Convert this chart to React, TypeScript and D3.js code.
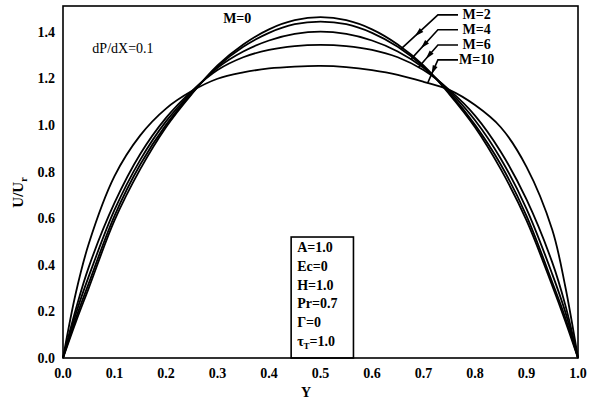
import React, { useEffect, useRef } from 'react'
import * as d3 from 'd3'

// Y positions across the channel
const yPos = [0, 0.025, 0.05, 0.1, 0.15, 0.2, 0.25, 0.3, 0.35, 0.4, 0.45, 0.5, 0.55, 0.6, 0.65, 0.7, 0.75, 0.8, 0.85, 0.9, 0.95, 0.975, 1.0]

// U/Ur for each Hartmann number
const uM0 = [0, 0.155, 0.30, 0.59, 0.81, 0.99, 1.132, 1.255, 1.345, 1.41, 1.449, 1.462, 1.449, 1.41, 1.345, 1.255, 1.132, 0.99, 0.81, 0.59, 0.31, 0.16, 0]
const uM2 = [0, 0.17, 0.32, 0.61, 0.83, 1.0, 1.135, 1.25, 1.335, 1.395, 1.432, 1.443, 1.432, 1.395, 1.335, 1.25, 1.138, 1.0, 0.83, 0.61, 0.325, 0.175, 0]
const uM4 = [0, 0.19, 0.35, 0.635, 0.85, 1.015, 1.14, 1.245, 1.315, 1.362, 1.39, 1.40, 1.39, 1.362, 1.315, 1.245, 1.145, 1.02, 0.855, 0.64, 0.36, 0.20, 0]
const uM6 = [0, 0.21, 0.39, 0.665, 0.875, 1.03, 1.145, 1.235, 1.29, 1.322, 1.338, 1.343, 1.338, 1.322, 1.29, 1.235, 1.15, 1.04, 0.885, 0.68, 0.41, 0.23, 0]
const uM10 = [0, 0.28, 0.49, 0.78, 0.955, 1.07, 1.145, 1.198, 1.225, 1.242, 1.25, 1.253, 1.248, 1.235, 1.215, 1.185, 1.15, 1.085, 0.99, 0.82, 0.55, 0.31, 0]

const xTicks = [0, 0.1, 0.2, 0.3, 0.4, 0.5, 0.6, 0.7, 0.8, 0.9, 1.0]
const yTicks = [0, 0.2, 0.4, 0.6, 0.8, 1.0, 1.2, 1.4]

// arrow labels: which curve, where the arrow touches it, label row height
const arrowLabels = ['M=2', 'M=4', 'M=6', 'M=10']
const arrowSeries = [uM2, uM4, uM6, uM10]
const arrowTipY = [0.656, 0.675, 0.69, 0.708]
const arrowRowU = [1.472, 1.408, 1.343, 1.279]

const paramLines = ['A=1.0', 'Ec=0', 'H=1.0', 'Pr=0.7', 'Γ=0']

const W = 589
const H = 404
const margin = { top: 6, right: 11, bottom: 46, left: 63 }

const App = () => {
    const svgRef = useRef<SVGSVGElement>(null)

    useEffect(() => {
        const svg = d3.select(svgRef.current)
        svg.selectAll('*').remove()

        const x = d3.scaleLinear().domain([0, 1]).range([margin.left, W - margin.right])
        const y = d3.scaleLinear().domain([0, 1.51]).range([H - margin.bottom, margin.top])

        const font = 'Liberation Serif, Times New Roman, serif'

        const line = d3.line<number>()
            .x((d, i) => x(yPos[i]))
            .y(d => y(d))
            .curve(d3.curveCatmullRom.alpha(0.5))

        const allSeries = [uM0, uM2, uM4, uM6, uM10]
        svg.selectAll('.curve')
            .data(allSeries)
            .join('path')
            .attr('class', 'curve')
            .attr('d', d => line(d))
            .attr('fill', 'none')
            .attr('stroke', '#000')
            .attr('stroke-width', 1.8)

        // frame
        svg.append('rect')
            .attr('x', x(0)).attr('y', y(1.51))
            .attr('width', x(1) - x(0)).attr('height', y(0) - y(1.51))
            .attr('fill', 'none').attr('stroke', '#000').attr('stroke-width', 1.6)

        // tick labels
        svg.selectAll('.xt')
            .data(xTicks)
            .join('text')
            .attr('x', d => x(d)).attr('y', y(0) + 20)
            .attr('text-anchor', 'middle')
            .attr('font-family', font).attr('font-weight', 'bold').attr('font-size', 14)
            .text(d => d.toFixed(1))

        svg.selectAll('.yt')
            .data(yTicks)
            .join('text')
            .attr('x', x(0) - 8).attr('y', d => y(d) + 5)
            .attr('text-anchor', 'end')
            .attr('font-family', font).attr('font-weight', 'bold').attr('font-size', 14)
            .text(d => d.toFixed(1))

        svg.append('text')
            .attr('x', 306).attr('y', y(0) + 39)
            .attr('text-anchor', 'middle')
            .attr('font-family', font).attr('font-weight', 'bold').attr('font-size', 14)
            .text('Y')

        const yl = svg.append('text')
            .attr('transform', `translate(23, ${y(0.71)}) rotate(-90)`)
            .attr('text-anchor', 'middle')
            .attr('font-family', font).attr('font-weight', 'bold').attr('font-size', 15)
        yl.append('tspan').text('U/U')
        yl.append('tspan').attr('dy', 4).attr('font-size', 10).text('r')

        // in-plot labels
        svg.append('text')
            .attr('x', x(0.057)).attr('y', y(1.31))
            .attr('font-family', font).attr('font-size', 14)
            .text('dP/dX=0.1')

        svg.append('text')
            .attr('x', x(0.311)).attr('y', y(1.438))
            .attr('font-family', font).attr('font-weight', 'bold').attr('font-size', 14)
            .text('M=0')

        // arrow labels
        arrowLabels.forEach((lab, i) => {
            const tipX = x(arrowTipY[i])
            const tipU = d3.scaleLinear().domain(yPos).range(arrowSeries[i])(arrowTipY[i])
            const tipYpx = y(tipU)
            const rowY = y(arrowRowU[i])
            const elbowX = x(0.728)
            const endX = x(0.767)
            svg.append('path')
                .attr('d', `M${endX},${rowY} L${elbowX},${rowY} L${tipX},${tipYpx}`)
                .attr('fill', 'none').attr('stroke', '#000').attr('stroke-width', 1.6)
            // arrowhead along the diagonal
            const dx = tipX - elbowX
            const dy = tipYpx - rowY
            const len = Math.hypot(dx, dy)
            const ux = dx / len
            const uy = dy / len
            const hx = elbowX + dx * 0.62
            const hy = rowY + dy * 0.62
            const bx = hx - ux * 9
            const by = hy - uy * 9
            svg.append('path')
                .attr('d', `M${hx},${hy} L${bx - uy * 2.6},${by + ux * 2.6} L${bx + uy * 2.6},${by - ux * 2.6} Z`)
                .attr('fill', '#000')
            svg.append('text')
                .attr('x', x(0.803)).attr('y', rowY + 4)
                .attr('text-anchor', 'middle')
                .attr('font-family', font).attr('font-weight', 'bold').attr('font-size', 14)
                .text(lab)
        })

        // parameter box
        const bx0 = x(0.443)
        const bx1 = x(0.564)
        const by0 = y(0.519)
        svg.append('rect')
            .attr('x', bx0).attr('y', by0)
            .attr('width', bx1 - bx0).attr('height', y(0) - by0)
            .attr('fill', 'none').attr('stroke', '#000').attr('stroke-width', 1.6)

        svg.selectAll('.pl')
            .data(paramLines)
            .join('text')
            .attr('x', bx0 + 6).attr('y', (d, i) => by0 + 15 + i * 18.8)
            .attr('font-family', font).attr('font-weight', 'bold').attr('font-size', 14)
            .text(d => d)

        const tau = svg.append('text')
            .attr('x', bx0 + 6).attr('y', by0 + 15 + 5 * 18.8)
            .attr('font-family', font).attr('font-weight', 'bold').attr('font-size', 14)
        tau.append('tspan').text('τ')
        tau.append('tspan').attr('dy', 3).attr('font-size', 9).text('T')
        tau.append('tspan').attr('dy', -3).text('=1.0')
    }, [])

    return (
        <svg ref={svgRef} width={W} height={H}
            style={{ position: 'absolute', left: 0, top: 0, background: '#fff' }} />
    )
}

export default App
